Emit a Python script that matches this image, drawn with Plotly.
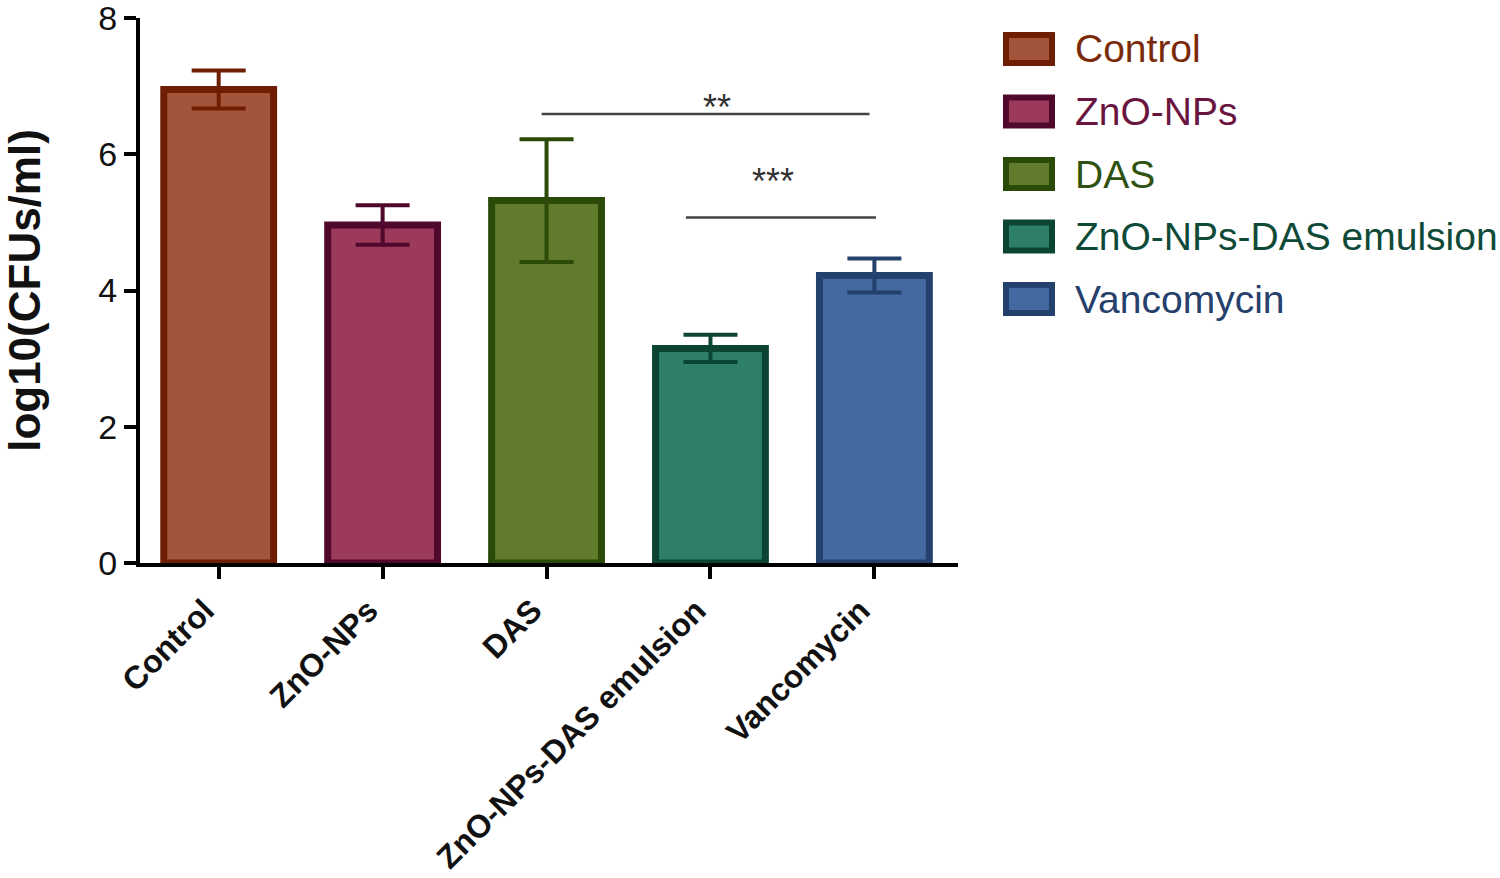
import plotly.graph_objects as go

categories = ["Control", "ZnO-NPs", "DAS", "ZnO-NPs-DAS emulsion", "Vancomycin"]
means = [6.95, 4.96, 5.32, 3.15, 4.22]
errors = [0.28, 0.29, 0.90, 0.20, 0.25]
fill_colors = ["#A3553B", "#9C3A5C", "#5F7B2B", "#2D8067", "#4468A0"]
line_colors = ["#6E1E02", "#50082C", "#2B4A07", "#0C4433", "#24406C"]
text_colors = ["#7A2A08", "#6A1440", "#2F5212", "#0F4A38", "#26406C"]
y_ticks = [0, 2, 4, 6, 8]

# significance brackets: (x start, x end, y level, label, label x, label y)
sig_lines = [(1.97, 3.97, 6.59, "**", 3.04, 6.68), (2.85, 4.01, 5.07, "***", 3.38, 5.60)]

W, H = 1500, 878
L, T = 140, 18
pw, ph = 818, 545
R, B = W - L - pw, H - T - ph

fig = go.Figure()
for c, m, e, fc, lc in zip(categories, means, errors, fill_colors, line_colors):
    fig.add_trace(go.Bar(
        x=[c], y=[m], width=0.67, name=c, showlegend=False,
        marker=dict(color=fc, line=dict(color=lc, width=7)),
        error_y=dict(type="data", array=[e], visible=True, color=lc, thickness=4, width=27),
    ))

for x0, x1, yl, lab, lx, ly in sig_lines:
    fig.add_shape(type="line", xref="x", yref="y", x0=x0, x1=x1, y0=yl, y1=yl,
                  line=dict(color="#444444", width=2.5))
    fig.add_annotation(x=lx, y=ly, xref="x", yref="y", text=lab, showarrow=False,
                       font=dict(size=36, color="#333333", family="Liberation Sans"),
                       yanchor="middle")

# short extension of the x axis line to the left of the y axis
fig.add_shape(type="line", xref="paper", yref="paper", x0=-13 / pw, x1=0, y0=0, y1=0,
              line=dict(color="black", width=4))

# custom legend (positions in page pixels)
def px_to_paper(px, py):
    return (px - L) / pw, (T + ph - py) / ph

for i, (c, fc, lc, tc) in enumerate(zip(categories, fill_colors, line_colors, text_colors)):
    cy = 49 + i * 62.5
    x0, y0 = px_to_paper(1006, cy + 14)
    x1, y1 = px_to_paper(1052, cy - 14)
    fig.add_shape(type="rect", xref="paper", yref="paper", x0=x0, x1=x1, y0=y0, y1=y1,
                  fillcolor=fc, line=dict(color=lc, width=6))
    tx, ty = px_to_paper(1073, cy)
    fig.add_annotation(x=tx, y=ty, xref="paper", yref="paper", text=c, showarrow=False,
                       xanchor="left", yanchor="middle",
                       font=dict(size=39, color=tc, family="Liberation Sans"))

fig.update_layout(
    width=W, height=H,
    margin=dict(l=L, r=R, t=T, b=B),
    plot_bgcolor="white", paper_bgcolor="white",
    barmode="overlay",
    font=dict(family="Liberation Sans", color="black"),
    showlegend=False,
)
fig.update_xaxes(
    type="category", range=[-0.48, 4.51], showline=True, linecolor="black", linewidth=4,
    ticks="outside", ticklen=12, tickwidth=4, tickcolor="black", tickangle=-45,
    ticklabelshift=-14,
    tickfont=dict(size=32, family="Liberation Sans", weight="bold", color="#111111"),
    showgrid=False, zeroline=False, automargin=False,
)
fig.update_yaxes(
    range=[0, 8], tickvals=y_ticks, showline=True, linecolor="black", linewidth=4,
    ticks="outside", ticklen=12, tickwidth=4, tickcolor="black", ticklabeloverflow="allow",
    tickfont=dict(size=34, family="Liberation Sans", color="#111111"),
    title=dict(text="log10(CFUs/ml)", standoff=45,
               font=dict(size=44, family="Liberation Sans", weight="bold", color="#111111")),
    showgrid=False, zeroline=False, automargin=False,
)

fig.write_html("out.html", config={"displayModeBar": False},
               post_script="document.body.style.margin='0';document.body.style.overflow='hidden';")
